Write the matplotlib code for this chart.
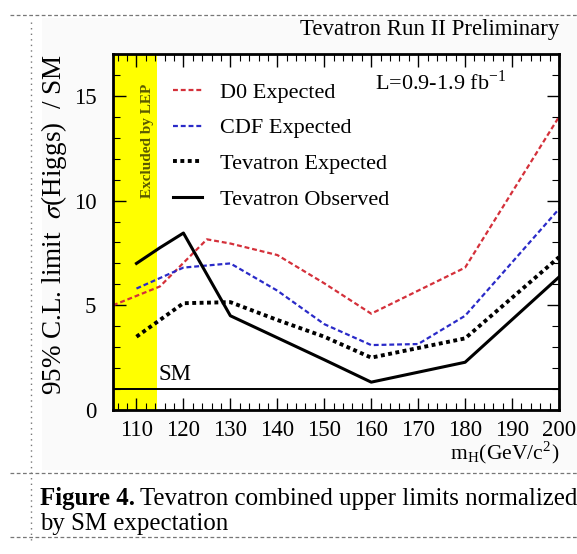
import matplotlib
matplotlib.use("Agg")
import matplotlib.pyplot as plt
from matplotlib.lines import Line2D
from matplotlib.patches import Rectangle
from matplotlib.ticker import MultipleLocator

plt.rcParams['font.family'] = ['Liberation Serif', 'DejaVu Serif']
plt.rcParams['mathtext.fontset'] = 'stix'

# values
mh_d0 = [105, 115, 125, 130, 140, 150, 160, 180, 200]
d0_exp = [5.0, 5.9, 8.15, 7.95, 7.4, 6.05, 4.6, 6.8, 14.0]

mh_cdf = [110, 120, 130, 140, 150, 160, 170, 180, 200]
cdf_exp = [5.8, 6.8, 7.0, 5.7, 4.1, 3.1, 3.15, 4.5, 9.6]

mh_tev = [110, 120, 130, 140, 150, 160, 180, 200]
tev_exp = [3.5, 5.1, 5.15, 4.3, 3.5, 2.5, 3.42, 7.3]

mh_obs = [110, 115, 120, 130, 140, 150, 160, 180, 200]
tev_obs = [7.0, 7.75, 8.45, 4.5, 3.45, 2.4, 1.33, 2.28, 6.35]

lep_limit = 114.4
sm_level = 1.0

fig = plt.figure(figsize=(5.77, 5.54), dpi=100)

# pasted chart background and the document frame
fig.add_artist(Rectangle((42/577, 1-470/554), 535/577, 452/554, transform=fig.transFigure,
                         facecolor='#fafafa', edgecolor='none', zorder=-5))
for yy in [15, 473, 537]:
    fig.add_artist(Line2D([10/577, 1], [1-yy/554, 1-yy/554], transform=fig.transFigure,
                          color='#777777', lw=0.9, ls=(0, (3, 2))))
fig.add_artist(Line2D([31/577, 31/577], [1-22/554, 1-540/554], transform=fig.transFigure,
                      color='#777777', lw=1.0, ls=(0, (1, 3))))

ax = fig.add_axes([113/577, 1-410/554, (559-113)/577, (410-54)/554])
ax.set_facecolor('white')

ax.axvspan(105, lep_limit, color='#ffff00', zorder=0, lw=0)
ax.text(112.3, 12.85, 'Excluded by LEP', rotation=90, ha='center', va='center',
        fontsize=11, color='#5a5a00', fontweight='bold')

ax.axhline(sm_level, color='black', lw=1.4)
ax.text(114.6, 1.2, 'SM', fontsize=16.5, ha='left', va='bottom')

ax.plot(mh_d0, d0_exp, color='#d4303a', lw=1.6, ls=(0, (2.2, 1.3)), label='D0 Expected')
ax.plot(mh_cdf, cdf_exp, color='#2a2ac8', lw=1.6, ls=(0, (2.2, 1.3)), label='CDF Expected')
ax.plot(mh_tev, tev_exp, color='black', lw=2.8, ls=(0, (1.0, 0.9)), label='Tevatron Expected')
ax.plot(mh_obs, tev_obs, color='black', lw=2.2, label='Tevatron Observed')

leg = ax.legend(loc='upper left', bbox_to_anchor=(0.115, 0.946), frameon=False,
                fontsize=16, handlelength=1.3, handletextpad=0.8, labelspacing=0.68,
                borderaxespad=0)

ax.text(0.883, 0.918, r'L=0.9-1.9 fb$^{\mathregular{-1}}$', transform=ax.transAxes,
        ha='right', va='center', fontsize=16)

ax.set_xlim(105, 200)
ax.set_ylim(0, 17)
ax.xaxis.set_major_locator(MultipleLocator(10))
ax.xaxis.set_minor_locator(MultipleLocator(2))
ax.yaxis.set_major_locator(MultipleLocator(5))
ax.yaxis.set_minor_locator(MultipleLocator(1))
ax.tick_params(which='both', direction='in', top=True, right=True, labelsize=16.5)
ax.tick_params(which='major', length=9, width=1.0)
ax.tick_params(which='minor', length=5, width=0.8)
ax.tick_params(axis='y', pad=12)
ax.tick_params(axis='x', pad=7)
for s in ax.spines.values():
    s.set_linewidth(2.0)

ax.set_ylabel(r'95% C.L. limit  $\sigma$(Higgs)  / SM', fontsize=19.5)
ax.yaxis.set_label_coords(-0.099, 0.52)
ax.text(1.0, -0.12, r'm$_{\mathregular{H}}$(GeV/c$^{\mathregular{2}}$)', transform=ax.transAxes,
        ha='right', va='center', fontsize=15.5)

fig.text(0.5 * (557 + 303) / 577, 1-30/554, 'Tevatron Run II Preliminary', ha='center',
         va='center', fontsize=16.5)

# caption: bold label followed by regular text
cap = fig.text(40/577, 1-499/554, 'Figure 4.', fontsize=17.9, fontweight='bold',
               va='center', ha='left')
renderer = fig.canvas.get_renderer()
bb = cap.get_window_extent(renderer)
fig.text((bb.x1 + 5) / 577, 1-499/554, 'Tevatron combined upper limits normalized',
         fontsize=17.9, va='center', ha='left')
fig.text(40/577, 1-524/554, 'by SM expectation', fontsize=17.9, va='center', ha='left')

fig.savefig('out.png', dpi=100)
